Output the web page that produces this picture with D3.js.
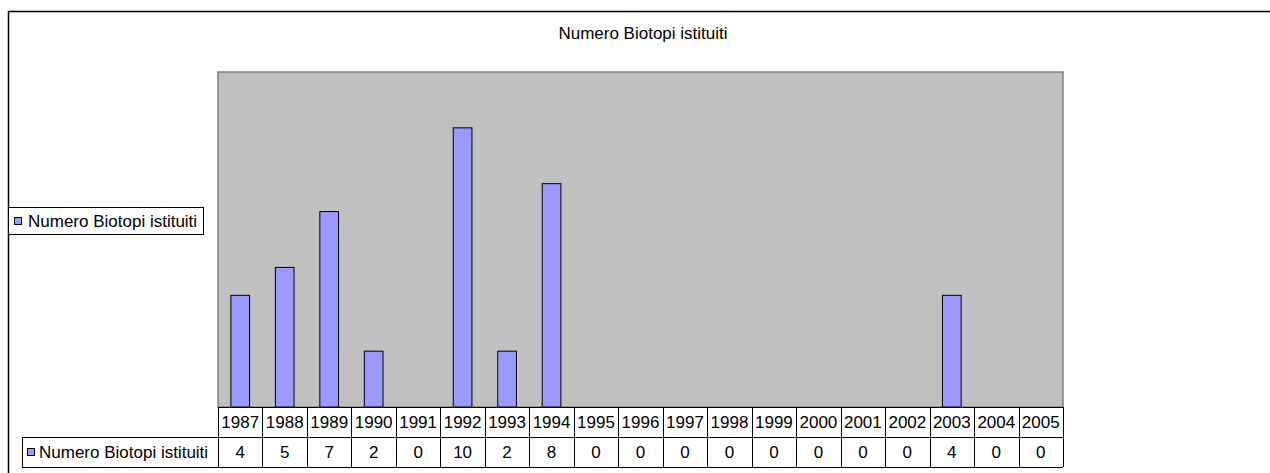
<!DOCTYPE html>
<html>
<head>
<meta charset="utf-8">
<script src="https://cdn.jsdelivr.net/npm/d3@7"></script>
<style>
  html, body { margin: 0; padding: 0; background: #fff; }
  svg { display: block; font-family: "Liberation Sans", Arial, sans-serif; }
</style>
</head>
<body>
<svg id="chart" width="1270" height="473"></svg>
<script>
/* ---------- data ---------- */
const title      = "Numero Biotopi istituiti";
const seriesName = "Numero Biotopi istituiti";
const years      = ["1987","1988","1989","1990","1991","1992","1993","1994","1995","1996",
                    "1997","1998","1999","2000","2001","2002","2003","2004","2005"];
const values     = [4, 5, 7, 2, 0, 10, 2, 8, 0, 0, 0, 0, 0, 0, 0, 0, 4, 0, 0];
const yDomain    = [0, 12];

/* ---------- layout ---------- */
const svg   = d3.select("#chart");
const plot  = { left: 218, right: 1063, top: 72, bottom: 407 };
const rowH  = 30;
const labelX = 22;
const fontSize = 17;
const barColor = "#9999FF";

const x = d3.scaleBand().domain(years)
  .range([plot.left, plot.right])
  .paddingInner(0.58).paddingOuter(0.29);
const y = d3.scaleLinear().domain(yDomain).range([plot.bottom, plot.top]);
const step = x.step();
const cellLeft = d => plot.left + years.indexOf(d) * step;

/* outer chart frame (right/bottom edges fall off the picture) */
svg.append("rect")
  .attr("x", 8.5).attr("y", 11.5).attr("width", 1300).attr("height", 500)
  .attr("fill", "none").attr("stroke", "#000").attr("stroke-width", 1.5);

/* title */
svg.append("text")
  .attr("x", 643).attr("y", 39)
  .attr("text-anchor", "middle").attr("font-size", fontSize)
  .text(title);

/* plot area */
svg.append("rect")
  .attr("x", plot.left).attr("y", plot.top)
  .attr("width", plot.right - plot.left).attr("height", plot.bottom - plot.top)
  .attr("fill", "#C0C0C0").attr("stroke", "#808080").attr("stroke-width", 1.5);

/* bars */
svg.append("g").selectAll("rect")
  .data(years.map((d, i) => ({ year: d, v: values[i] })).filter(d => d.v > 0))
  .join("rect")
  .attr("x", d => x(d.year))
  .attr("y", d => y(d.v))
  .attr("width", x.bandwidth())
  .attr("height", d => y(0) - y(d.v))
  .attr("fill", barColor).attr("stroke", "#000").attr("stroke-width", 1);

/* data table */
const tbl = svg.append("g").attr("stroke", "#000").attr("stroke-width", 1);
const r1 = plot.bottom, r2 = plot.bottom + rowH, r3 = plot.bottom + 2 * rowH;

// horizontal lines
tbl.append("line").attr("x1", plot.left).attr("x2", plot.right).attr("y1", r1 + 0.5).attr("y2", r1 + 0.5);
tbl.append("line").attr("x1", labelX).attr("x2", plot.right).attr("y1", r2 + 0.5).attr("y2", r2 + 0.5);
tbl.append("line").attr("x1", labelX).attr("x2", plot.right).attr("y1", r3 + 0.5).attr("y2", r3 + 0.5);
// label cell left edge
tbl.append("line").attr("x1", labelX + 0.5).attr("x2", labelX + 0.5).attr("y1", r2).attr("y2", r3);
// column separators
tbl.selectAll("line.col")
  .data(years.concat(["end"]))
  .join("line").attr("class", "col")
  .attr("x1", (d, i) => Math.round(plot.left + i * step) + 0.5)
  .attr("x2", (d, i) => Math.round(plot.left + i * step) + 0.5)
  .attr("y1", r1).attr("y2", r3);

// year labels
svg.append("g").selectAll("text")
  .data(years).join("text")
  .attr("x", d => cellLeft(d) + step / 2)
  .attr("y", r1 + 21)
  .attr("text-anchor", "middle").attr("font-size", fontSize)
  .text(d => d);

// values
svg.append("g").selectAll("text")
  .data(years).join("text")
  .attr("x", d => cellLeft(d) + step / 2)
  .attr("y", r2 + 21)
  .attr("text-anchor", "middle").attr("font-size", fontSize)
  .text((d, i) => values[i]);

// row label with key
svg.append("rect")
  .attr("x", labelX + 5.5).attr("y", r2 + 11.5).attr("width", 7).attr("height", 7)
  .attr("fill", barColor).attr("stroke", "#000").attr("stroke-width", 1);
svg.append("text")
  .attr("x", labelX + 17).attr("y", r2 + 21)
  .attr("font-size", fontSize)
  .text(seriesName);

/* legend */
const leg = svg.append("g");
leg.append("rect")
  .attr("x", 8.5).attr("y", 207.5).attr("width", 195).attr("height", 27)
  .attr("fill", "#fff").attr("stroke", "#000").attr("stroke-width", 1);
leg.append("rect")
  .attr("x", 14.5).attr("y", 217.5).attr("width", 7).attr("height", 7)
  .attr("fill", barColor).attr("stroke", "#000").attr("stroke-width", 1);
leg.append("text")
  .attr("x", 28).attr("y", 227)
  .attr("font-size", fontSize)
  .text(seriesName);
</script>
</body>
</html>
